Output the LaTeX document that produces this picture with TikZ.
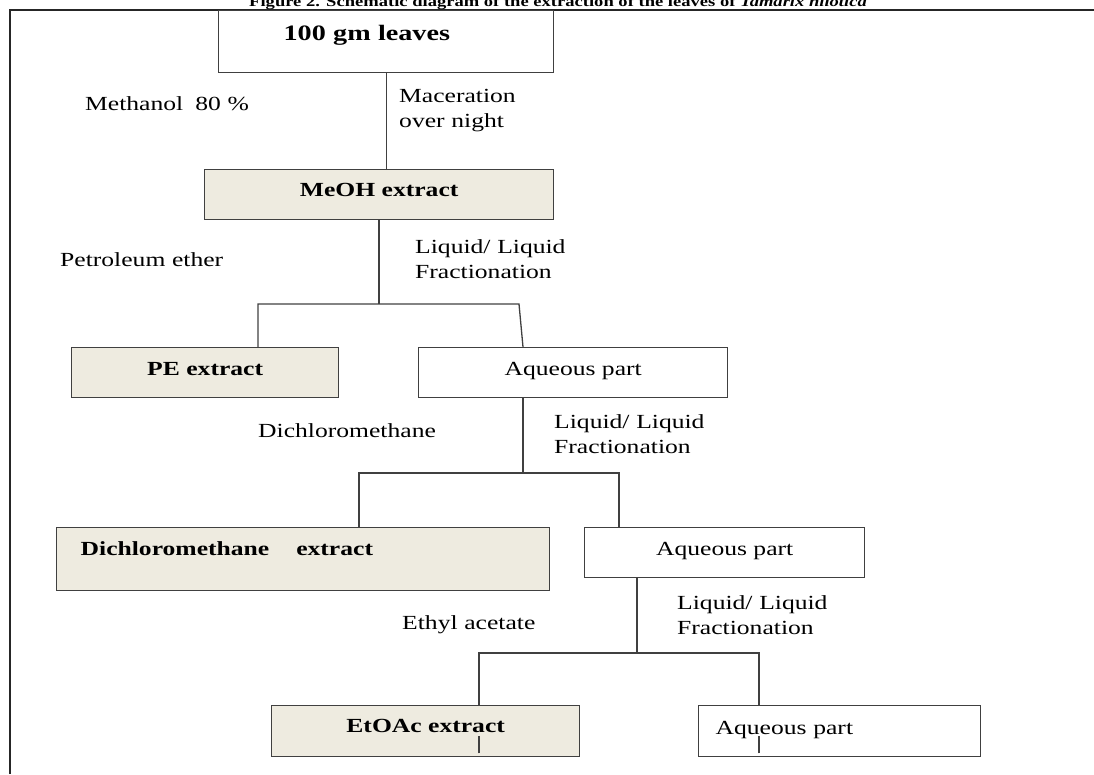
\documentclass[tikz,border=0pt]{standalone}
\usepackage{fontspec}
\setmainfont{Liberation Serif}[FakeStretch=1.28]
\usepackage{xcolor}
\usetikzlibrary{positioning}

\begin{document}
\begin{tikzpicture}[x=1pt,y=-1pt,
  box/.style={draw=black!75, line width=1.3pt, anchor=north west, inner sep=0pt,
    font=\fontsize{20}{24}\selectfont, text height=14pt, text depth=9pt},
  lbl/.style={anchor=base west, inner sep=0pt, text width=200pt, align=left,
    font=\fontsize{20}{25}\selectfont},
  link/.style={draw=black!75, line width=1.3pt}]
  \useasboundingbox (0,0) rectangle (1094,774);
  \def\ext{rgb,255:red,238;green,235;blue,224}
  % frame and caption
  \draw[line width=2.5pt,black!85] (10,774) -- (10,10) -- (1094,10);
  \node[anchor=base,inner sep=0pt,font=\fontsize{14.5}{17}\selectfont\bfseries] (cap) at (558,6)
    {Figure 2. Schematic diagram of the extraction of the leaves of \textit{Tamarix nilotica}};

  % boxes
  \node[box, font=\fontsize{22}{26}\selectfont\bfseries, minimum width=335pt, minimum height=62pt,
    text depth=16pt, inner xsep=65pt, text width=205pt, align=left] (leaves) at (218,10) {100 gm leaves};
  \node[box, fill=\ext, font=\fontsize{20}{24}\selectfont\bfseries, minimum width=349pt,
    minimum height=50pt, text depth=11pt] (MeOH) at (204,169) {MeOH extract};
  \node[box, fill=\ext, font=\fontsize{20}{24}\selectfont\bfseries, minimum width=267pt,
    minimum height=50pt] (PE) at (71,347) {PE extract};
  \node[box, minimum width=309pt, minimum height=50pt] (aq1) at (418,347) {Aqueous part};
  \node[box, fill=\ext, font=\fontsize{20}{24}\selectfont\bfseries, minimum width=493pt,
    minimum height=63pt, text depth=22pt, inner xsep=24pt, text width=445pt, align=left]
    (dcm) at (56,527) {Dichloromethane\hspace{27pt}extract};
  \node[box, minimum width=280pt, minimum height=50pt] (aq2) at (584,527) {Aqueous part};
  \node[box, fill=\ext, font=\fontsize{20}{24}\selectfont\bfseries, minimum width=308pt,
    minimum height=51pt, text depth=12pt] (etoac) at (271,705) {EtOAc extract};
  \node[box, minimum width=282pt, minimum height=51pt, text depth=8pt, inner xsep=17pt,
    text width=248pt, align=left] (aq3) at (698,705) {Aqueous part};

  % solvents and steps
  \node[lbl] (meth) at (85,110) {Methanol\hspace{12pt}80 \%};
  \node[lbl] (mac) at (399,102) {Maceration\\over night};
  \node[lbl] (pet) at (60,266) {Petroleum ether};
  \node[lbl] (ll1) at (415,253) {Liquid/ Liquid\\Fractionation};
  \node[lbl] (dich) at (258,437) {Dichloromethane};
  \node[lbl] (ll2) at (554,428) {Liquid/ Liquid\\Fractionation};
  \node[lbl] (ethyl) at (402,629) {Ethyl acetate};
  \node[lbl] (ll3) at (677,609) {Liquid/ Liquid\\Fractionation};

  % junctions
  \coordinate (j1) at (379,304); \coordinate (j1l) at (258,304); \coordinate (j1r) at (519,304);
  \coordinate (j2) at (523,473); \coordinate (j2l) at (359,473); \coordinate (j2r) at (619,473);
  \coordinate (j3) at (637,653); \coordinate (j3l) at (479,653); \coordinate (j3r) at (759,653);

  \draw[link] (leaves.south) -- (leaves.south |- MeOH.north);
  \draw[link] (j1 |- MeOH.south) -- (j1);
  \draw[link] (j1l |- PE.north) -- (j1l) -- (j1r) -- (j2 |- aq1.north);
  \draw[link] (j2 |- aq1.south) -- (j2);
  \draw[link] (j2l |- dcm.north) -- (j2l) -- (j2r) -- (j2r |- aq2.north);
  \draw[link] (j3 |- aq2.south) -- (j3);
  \draw[link] (j3l |- etoac.north) -- (j3l) -- (j3r) -- (j3r |- aq3.north);
  \draw[link] (j3l |- etoac.south) ++(0,-4) -- ++(0,-17);
  \draw[link] (j3r |- aq3.south) ++(0,-4) -- ++(0,-17);
\end{tikzpicture}
\end{document}
